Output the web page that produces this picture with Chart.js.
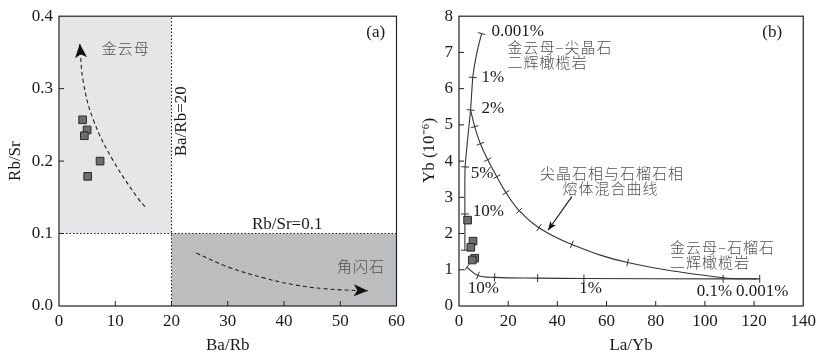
<!DOCTYPE html>
<html>
<head>
<meta charset="utf-8">
<script src="https://cdn.jsdelivr.net/npm/chart.js@4.4.0/dist/chart.umd.min.js"></script>
<style>
html, body { margin: 0; padding: 0; background: #fff; }
#wrap { position: relative; width: 821px; height: 361px; }
#ca { position: absolute; left: 0; top: 0; }
#cb { position: absolute; left: 410px; top: 0; }
</style>
</head>
<body>
<div id="wrap">
  <canvas id="ca" width="410" height="361"></canvas>
  <canvas id="cb" width="411" height="361"></canvas>
</div>
<script>
// ---- (a) Ba/Rb - Rb/Sr ----
var baRb = [4.2, 5.0, 4.5, 7.3, 5.1];
var rbSr = [0.257, 0.243, 0.235, 0.200, 0.179];
var phlTrendX = [15.3, 14.0, 9.6, 6.1, 4.3, 3.7];
var phlTrendY = [0.137, 0.149, 0.201, 0.257, 0.31, 0.362];
var amphTrendX = [24.4, 30, 36.8, 42, 47, 51, 54.9];
var amphTrendY = [0.073, 0.054, 0.038, 0.029, 0.024, 0.022, 0.021];
var phlZone = [0, 20, 0.1, 0.4];    // x0, x1, y0, y1
var amphZone = [20, 60, 0, 0.1];
var baRbLimit = 20;
var rbSrLimit = 0.1;

// ---- (b) La/Yb - Yb ----
var laYb = [3.5, 5.7, 4.8, 6.4, 5.4];
var ybVal = [2.37, 1.79, 1.62, 1.32, 1.27];
var spinelX = [2.4, 2.4, 2.5, 4.7, 5.6, 6.5, 7.8, 9.2];
var spinelY = [1.54, 2.54, 3.84, 5.41, 6.31, 6.72, 7.15, 7.52];
var spinelTicks = [0, 1, 2, 3, 4, 7];
var garnetX = [3.2, 7.7, 14.5, 32, 50.8, 107.4, 122.3];
var garnetY = [1.07, 0.84, 0.79, 0.77, 0.76, 0.75, 0.75];
var garnetTicks = [0, 1, 2, 3, 4, 5, 6];
var mixX = [4.7, 6.4, 8.7, 11.7, 15.4, 19.1, 24.5, 32.5, 45.9, 68.6, 107.4, 121];
var mixY = [5.41, 4.95, 4.48, 4.04, 3.57, 3.13, 2.63, 2.16, 1.70, 1.20, 0.78, 0.75];
var mixTicks = [1, 2, 3, 4, 5, 6, 7, 8, 9];
var pointerX = [45.9, 36.2];
var pointerY = [3.02, 2.09];

var SERIF = 'Liberation Serif';
var CJK = 'Noto Sans CJK SC';

function pts(xs, ys) {
  return xs.map(function (x, i) { return { x: x, y: ys[i] }; });
}

var notesA = [
  { t: '金云母', x: 7.6, y: 0.356, cjk: true },
  { t: '(a)', x: 56.3, y: 0.378, align: 'center' },
  { t: 'Ba/Rb=20', x: 21.8, y: 0.255, align: 'center', rot: true },
  { t: 'Rb/Sr=0.1', x: 34.3, y: 0.112 },
  { t: '角闪石', x: 49.4, y: 0.055, cjk: true }
];
var notesB = [
  { t: '0.001%', x: 13.2, y: 7.59 },
  { t: '金云母–尖晶石', x: 19.7, y: 7.14, cjk: true },
  { t: '二辉橄榄岩', x: 19.7, y: 6.73, cjk: true },
  { t: '1%', x: 9.2, y: 6.32 },
  { t: '2%', x: 9.2, y: 5.46 },
  { t: '5%', x: 4.8, y: 3.67 },
  { t: '10%', x: 5.6, y: 2.62 },
  { t: '尖晶石相与石榴石相', x: 62.2, y: 3.67, cjk: true, align: 'center' },
  { t: '熔体混合曲线', x: 61.6, y: 3.26, cjk: true, align: 'center' },
  { t: '金云母–石榴石', x: 85.8, y: 1.63, cjk: true },
  { t: '二辉橄榄岩', x: 85.8, y: 1.21, cjk: true },
  { t: '10%', x: 3.6, y: 0.47 },
  { t: '1%', x: 48.9, y: 0.47 },
  { t: '0.1%', x: 96.7, y: 0.41 },
  { t: '0.001%', x: 112.7, y: 0.41 },
  { t: '(b)', x: 127.4, y: 7.56, align: 'center' }
];

// shaded fields, frame, inward ticks, curve marks, arrowheads, notes
var decor = {
  id: 'decor',
  beforeDatasetsDraw: function (chart) {
    var zones = chart.options.plugins.decor.zones || [];
    var sx = chart.scales.x, sy = chart.scales.y, ctx = chart.ctx;
    ctx.save();
    zones.forEach(function (z) {
      var x0 = sx.getPixelForValue(z.b[0]), x1 = sx.getPixelForValue(z.b[1]);
      var y0 = sy.getPixelForValue(z.b[2]), y1 = sy.getPixelForValue(z.b[3]);
      ctx.fillStyle = z.c;
      ctx.fillRect(x0, y1, x1 - x0, y0 - y1);
    });
    ctx.restore();
  },
  afterDatasetsDraw: function (chart) {
    var ctx = chart.ctx, a = chart.chartArea;
    var sx = chart.scales.x, sy = chart.scales.y;
    ctx.save();
    // curve tick marks and arrowheads
    chart.data.datasets.forEach(function (ds, di) {
      var pts = chart.getDatasetMeta(di).data;
      if (ds.marks) {
        ctx.strokeStyle = ds.borderColor;
        ctx.lineWidth = 1;
        ctx.beginPath();
        ds.marks.forEach(function (i) {
          var p = pts[i], p0 = pts[Math.max(i - 1, 0)], p1 = pts[Math.min(i + 1, pts.length - 1)];
          var dx = p1.x - p0.x, dy = p1.y - p0.y, L = Math.hypot(dx, dy) || 1;
          var nx = -dy / L * 4, ny = dx / L * 4;
          ctx.moveTo(p.x - nx, p.y - ny);
          ctx.lineTo(p.x + nx, p.y + ny);
        });
        ctx.stroke();
      }
      if (ds.arrow) {
        var e = pts[pts.length - 1], s = pts[pts.length - 2];
        var ang = Math.atan2(e.y - s.y, e.x - s.x);
        var len = ds.arrow[0], w = ds.arrow[1];
        ctx.fillStyle = '#111';
        ctx.beginPath();
        ctx.moveTo(e.x, e.y);
        ctx.lineTo(e.x - len * Math.cos(ang) + w * Math.sin(ang), e.y - len * Math.sin(ang) - w * Math.cos(ang));
        ctx.lineTo(e.x - len * 0.75 * Math.cos(ang), e.y - len * 0.75 * Math.sin(ang));
        ctx.lineTo(e.x - len * Math.cos(ang) - w * Math.sin(ang), e.y - len * Math.sin(ang) + w * Math.cos(ang));
        ctx.closePath();
        ctx.fill();
      }
    });
    // frame and inward ticks
    ctx.strokeStyle = '#222';
    ctx.lineWidth = 1.2;
    ctx.strokeRect(a.left, a.top, a.right - a.left, a.bottom - a.top);
    ctx.lineWidth = 1;
    ctx.beginPath();
    sx.ticks.forEach(function (t) {
      var p = sx.getPixelForValue(t.value);
      if (p <= a.left + 1 || p >= a.right - 1) return;
      ctx.moveTo(p, a.bottom); ctx.lineTo(p, a.bottom - 5);
    });
    sy.ticks.forEach(function (t) {
      var p = sy.getPixelForValue(t.value);
      if (p <= a.top + 1 || p >= a.bottom - 1) return;
      ctx.moveTo(a.left, p); ctx.lineTo(a.left + 5, p);
    });
    ctx.stroke();
    // notes
    (chart.options.plugins.decor.notes || []).forEach(function (n) {
      var x = sx.getPixelForValue(n.x), y = sy.getPixelForValue(n.y);
      ctx.save();
      ctx.translate(x, y);
      if (n.rot) ctx.rotate(-Math.PI / 2);
      ctx.textAlign = n.align || 'left';
      ctx.textBaseline = 'middle';
      if (n.cjk) {
        ctx.font = '300 15px "' + CJK + '"';
        ctx.fillStyle = '#505050';
        ctx.letterSpacing = '1px';
      } else {
        ctx.font = '17px "' + SERIF + '"';
        ctx.fillStyle = '#1a1a1a';
      }
      ctx.fillText(n.t, 0, 0);
      ctx.restore();
    });
    ctx.restore();
  }
};

function axis(min, max, step, title, isX, size, titlePad) {
  return {
    type: 'linear', min: min, max: max,
    ticks: {
      stepSize: step, color: '#1a1a1a', padding: isX ? 5 : 6, maxRotation: 0,
      font: { family: SERIF, size: 17 },
      callback: function (v) { return step < 1 ? v.toFixed(1) : v; }
    },
    grid: { display: false, drawTicks: false },
    border: { display: false },
    title: {
      display: true, text: title, color: '#1a1a1a',
      font: { family: SERIF, size: 17 },
      padding: isX ? { top: 0, bottom: titlePad } : { top: titlePad, bottom: 0 }
    },
    afterFit: function (s) { if (isX) s.height = size; else s.width = size; }
  };
}

function square(x, y) {
  return {
    data: pts(x, y), pointStyle: 'rect', pointRadius: 5.4,
    backgroundColor: '#6e6e6e', borderColor: '#2a2a2a', borderWidth: 1
  };
}

function curve(x, y, opts) {
  var ds = {
    data: pts(x, y), showLine: true, pointRadius: 0,
    borderColor: '#333', borderWidth: 1.1, fill: false, tension: 0.4
  };
  for (var k in opts) ds[k] = opts[k];
  return ds;
}

new Chart(document.getElementById('ca'), {
  type: 'scatter',
  data: {
    datasets: [
      square(baRb, rbSr),
      curve(phlTrendX, phlTrendY, { borderDash: [4, 3], borderColor: '#222', arrow: [14, 6] }),
      curve(amphTrendX, amphTrendY, { borderDash: [4, 3], borderColor: '#222', arrow: [14, 6] }),
      curve([baRbLimit, baRbLimit], [0, 0.4], { borderDash: [1.5, 2], borderColor: '#222', tension: 0 }),
      curve([0, 60], [rbSrLimit, rbSrLimit], { borderDash: [1.5, 2], borderColor: '#222', tension: 0 })
    ]
  },
  options: {
    responsive: false, animation: false,
    layout: { padding: { top: 16, right: 12, left: 0, bottom: 0 } },
    plugins: {
      legend: { display: false }, tooltip: { enabled: false },
      decor: {
        zones: [{ b: phlZone, c: '#e6e6e9' }, { b: amphZone, c: '#bcbdbf' }],
        notes: notesA
      }
    },
    scales: {
      x: axis(0, 60, 10, 'Ba/Rb', true, 55, 5),
      y: axis(0, 0.4, 0.1, 'Rb/Sr', false, 59, 5)
    }
  },
  plugins: [decor]
});

new Chart(document.getElementById('cb'), {
  type: 'scatter',
  data: {
    datasets: [
      square(laYb, ybVal),
      curve(spinelX, spinelY, { marks: spinelTicks, tension: 0.2 }),
      curve(garnetX, garnetY, { marks: garnetTicks }),
      curve(mixX, mixY, { marks: mixTicks }),
      curve(pointerX, pointerY, { borderColor: '#111', tension: 0, arrow: [9, 3.5] })
    ]
  },
  options: {
    responsive: false, animation: false,
    layout: { padding: { top: 16, right: 13, left: 0, bottom: 0 } },
    plugins: {
      legend: { display: false }, tooltip: { enabled: false },
      decor: { notes: notesB }
    },
    scales: {
      x: axis(0, 140, 20, 'La/Yb', true, 55, 5),
      y: axis(0, 8, 1, '     Yb (10⁻⁶)', false, 49, 9)
    }
  },
  plugins: [decor]
});
</script>
</body>
</html>
